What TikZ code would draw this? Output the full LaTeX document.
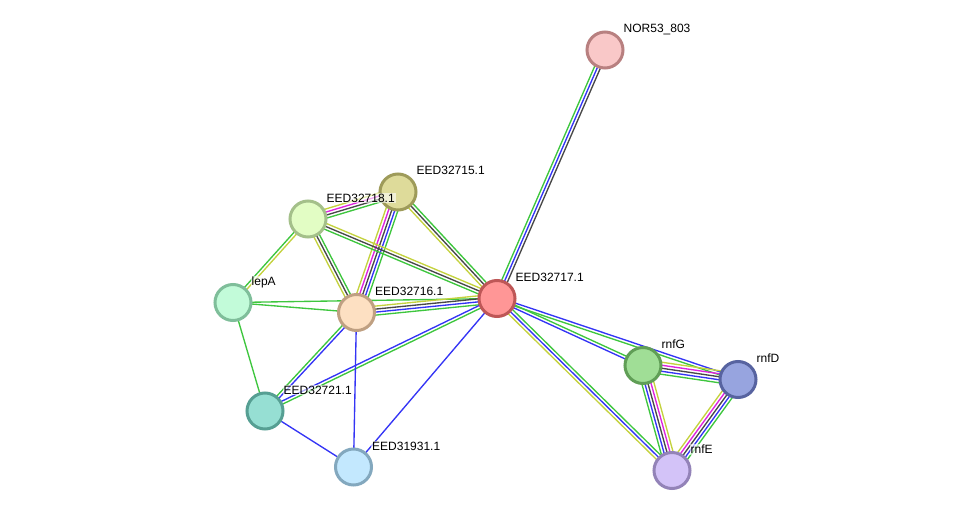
\documentclass[tikz,border=0pt]{standalone}
\usepackage{fontspec}
\setmainfont{Liberation Sans}
\usetikzlibrary{calc}

\pgfdeclarelayer{bg}
\pgfsetlayers{bg,main}

% evidence colours
\definecolor{egreen}{RGB}{62,198,62}
\definecolor{eblue}{RGB}{52,52,245}
\definecolor{eblack}{RGB}{72,72,72}
\definecolor{emagenta}{RGB}{222,34,222}
\definecolor{eyellow}{RGB}{196,210,62}

% parallel lines between two nodes, one per colour, first colour on the left
\newcommand{\evid}[3]{%
  \foreach \c [count=\i] in {#3} {\xdef\nlines{\i}}%
  \foreach \c [count=\i] in {#3} {%
    \pgfmathsetmacro{\shiftamt}{((\nlines+1)/2-\i)*3}%
    \draw[\c] ($(#1)!\shiftamt pt!90:(#2)$) -- ($(#2)!\shiftamt pt!-90:(#1)$);
  }%
}

\begin{document}
\begin{tikzpicture}[x=1pt,y=-1pt]

\tikzset{prot/.style = {shape=circle,draw,line width=3pt,minimum size=36pt,inner sep=0pt}}
\tikzset{lbl/.style = {anchor=base west,font=\fontsize{12}{14}\selectfont,fill=white,fill opacity=.6,text opacity=1,inner sep=1pt}}
\tikzset{lnk/.style = {line width=1.35pt}}

\useasboundingbox (0,0) rectangle (975,516);

%proteins
\node[prot, fill={rgb,255:red,249;green,200;blue,200}, draw={rgb,255:red,184;green,128;blue,128}] (nor) at (605,50) {};
\node[prot, fill={rgb,255:red,222;green,219;blue,154}, draw={rgb,255:red,158;green,155;blue,90}] (e715) at (398,192) {};
\node[prot, fill={rgb,255:red,226;green,253;blue,196}, draw={rgb,255:red,164;green,192;blue,138}] (e718) at (308,219) {};
\node[prot, fill={rgb,255:red,194;green,251;blue,217}, draw={rgb,255:red,127;green,190;blue,154}] (lepA) at (233,302.5) {};
\node[prot, fill={rgb,255:red,253;green,224;blue,194}, draw={rgb,255:red,191;green,160;blue,130}] (e716) at (356.5,312.5) {};
\node[prot, fill={rgb,255:red,255;green,150;blue,150}, draw={rgb,255:red,190;green,87;blue,87}] (e717) at (497,298.5) {};
\node[prot, fill={rgb,255:red,160;green,222;blue,150}, draw={rgb,255:red,96;green,158;blue,86}] (rnfG) at (643,365.5) {};
\node[prot, fill={rgb,255:red,151;green,164;blue,223}, draw={rgb,255:red,87;green,99;blue,160}] (rnfD) at (738,379.5) {};
\node[prot, fill={rgb,255:red,211;green,195;blue,248}, draw={rgb,255:red,147;green,131;blue,184}] (rnfE) at (672,470.5) {};
\node[prot, fill={rgb,255:red,150;green,223;blue,211}, draw={rgb,255:red,86;green,159;blue,147}] (e721) at (265,411) {};
\node[prot, fill={rgb,255:red,195;green,232;blue,254}, draw={rgb,255:red,131;green,168;blue,190}] (e931) at (353.5,467) {};

%names
\node[lbl] (tnor) at ([shift={(17.5,-17)}]nor) {NOR53\_803};
\node[lbl] (t715) at ([shift={(17.5,-17)}]e715) {EED32715.1};
\node[lbl] (t718) at ([shift={(17.5,-17)}]e718) {EED32718.1};
\node[lbl] (tlepA) at ([shift={(17.5,-17)}]lepA) {lepA};
\node[lbl] (t716) at ([shift={(17.5,-17)}]e716) {EED32716.1};
\node[lbl] (t717) at ([shift={(17.5,-17)}]e717) {EED32717.1};
\node[lbl] (trnfG) at ([shift={(17.5,-17)}]rnfG) {rnfG};
\node[lbl] (trnfD) at ([shift={(17.5,-17)}]rnfD) {rnfD};
\node[lbl] (trnfE) at ([shift={(17.5,-17)}]rnfE) {rnfE};
\node[lbl] (t721) at ([shift={(17.5,-17)}]e721) {EED32721.1};
\node[lbl] (t931) at ([shift={(17.5,-17)}]e931) {EED31931.1};

%links
\begin{pgfonlayer}{bg}
\begin{scope}[lnk]
\evid{e717}{nor}{egreen,eblue,eblack}
\evid{e718}{e715}{eyellow,emagenta,eblack,egreen}
\evid{e716}{e715}{eyellow,emagenta,eblack,eblue,egreen}
\evid{e715}{e717}{egreen,eblack,eyellow}
\evid{e718}{e716}{egreen,eblack,eyellow}
\evid{e718}{e717}{eyellow,eblack,egreen}
\evid{lepA}{e718}{egreen,eyellow}
\evid{lepA}{e716}{egreen}
\evid{lepA}{e717}{egreen}
\evid{lepA}{e721}{egreen}
\evid{e716}{e717}{eyellow,eblack,eblue,egreen}
\evid{e721}{e716}{egreen,eblue}
\evid{e721}{e717}{eblue,egreen}
\evid{e716}{e931}{eblue}
\evid{e717}{e931}{eblue}
\evid{e721}{e931}{eblue}
\evid{e717}{rnfD}{eblue,egreen}
\evid{e717}{rnfG}{egreen,eblue}
\evid{e717}{rnfE}{egreen,eblue,eyellow}
\evid{rnfG}{rnfD}{eyellow,emagenta,eblack,eblue,egreen}
\evid{rnfE}{rnfG}{egreen,eblue,eblack,emagenta,eyellow}
\evid{rnfE}{rnfD}{eyellow,emagenta,eblack,eblue,egreen}
\end{scope}
\end{pgfonlayer}

\end{tikzpicture}
\end{document}
